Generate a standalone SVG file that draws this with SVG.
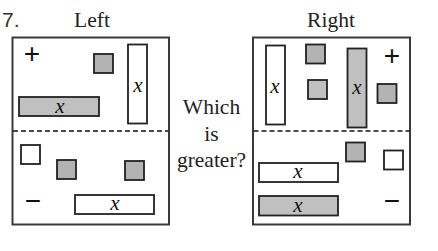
<svg xmlns="http://www.w3.org/2000/svg" width="438" height="251" viewBox="0 0 438 251">
<style>
.frame{fill:#fff;stroke:#3a3a3a;stroke-width:2}
.dash{stroke:#111;stroke-width:1.6;stroke-dasharray:5 3;fill:none}
.w{fill:#fff;stroke:#222;stroke-width:1.8}
.g{fill:#b3b3b3;stroke:#222;stroke-width:1.8}
.gl{fill:#c0c0c0;stroke:#222;stroke-width:1.8}
.t{font-family:"Liberation Serif","Times New Roman",serif;font-size:21.5px;fill:#222}
.x{font-family:"Liberation Serif","Times New Roman",serif;font-style:italic;font-size:21px;fill:#111;text-anchor:middle}
.s{font-family:"Liberation Sans",Arial,sans-serif;fill:#111;text-anchor:middle}
.pm{font-size:28px}
</style>
<rect width="438" height="251" fill="#fff"/>
<text x="2" y="27" class="s" style="text-anchor:start;font-size:21px;fill:#333">7.</text>
<text x="92" y="27" class="t" text-anchor="middle">Left</text>
<text x="331" y="27" class="t" text-anchor="middle">Right</text>

<g id="left-mat">
<rect class="frame" x="12.5" y="37.5" width="156.5" height="187"/>
<line class="dash" x1="13" y1="131" x2="168" y2="131"/>
</g>
<g id="left-plus"><text x="32" y="63" class="s pm">+</text></g>
<g id="left-unit-top"><rect class="g" x="94" y="54" width="19" height="19"/></g>
<g id="left-x-tall"><rect class="w" x="128" y="44.5" width="19" height="79"/><text x="138" y="92" class="x">x</text></g>
<g id="left-negx-top"><rect class="gl" x="19" y="97" width="80" height="19"/><text x="60" y="113" class="x">x</text></g>
<g id="left-unit-1"><rect class="w" x="21" y="145" width="19" height="19"/></g>
<g id="left-neg-1"><rect class="g" x="57" y="160" width="19" height="19"/></g>
<g id="left-neg-2"><rect class="g" x="125" y="161" width="19" height="19"/></g>
<g id="left-minus"><text x="33" y="209.5" class="s pm">−</text></g>
<g id="left-x-bottom"><rect class="w" x="75" y="195" width="79" height="19"/><text x="115" y="210" class="x">x</text></g>

<g id="question">
<text class="t" text-anchor="middle" x="211.5" y="114">Which</text>
<text class="t" text-anchor="middle" x="211.5" y="141">is</text>
<text class="t" text-anchor="middle" x="211.5" y="167">greater?</text>
</g>

<g id="right-mat">
<rect class="frame" x="253" y="37.5" width="157" height="187"/>
<line class="dash" x1="253.5" y1="131" x2="409.5" y2="131"/>
</g>
<g id="right-x-tall"><rect class="w" x="266" y="45.5" width="19" height="79"/><text x="275" y="93" class="x">x</text></g>
<g id="right-neg-top"><rect class="g" x="306" y="44.5" width="19" height="19"/></g>
<g id="right-neg-mid"><rect class="gl" x="308" y="80" width="19" height="19"/></g>
<g id="right-negx-tall"><rect class="gl" x="347.5" y="48.5" width="19" height="79"/><text x="357" y="94" class="x">x</text></g>
<g id="right-plus"><text x="392" y="64.5" class="s pm">+</text></g>
<g id="right-neg-right"><rect class="g" x="377.5" y="84" width="19" height="19"/></g>
<g id="right-neg-bottom"><rect class="g" x="346" y="142.5" width="19" height="19"/></g>
<g id="right-unit"><rect class="w" x="384" y="150.5" width="19" height="19"/></g>
<g id="right-x-bottom"><rect class="w" x="259" y="163" width="79" height="19"/><text x="298" y="178" class="x">x</text></g>
<g id="right-negx-bottom"><rect class="gl" x="259" y="196" width="79" height="19.5"/><text x="298" y="212" class="x">x</text></g>
<g id="right-minus"><text x="392" y="209.5" class="s pm">−</text></g>
</svg>
